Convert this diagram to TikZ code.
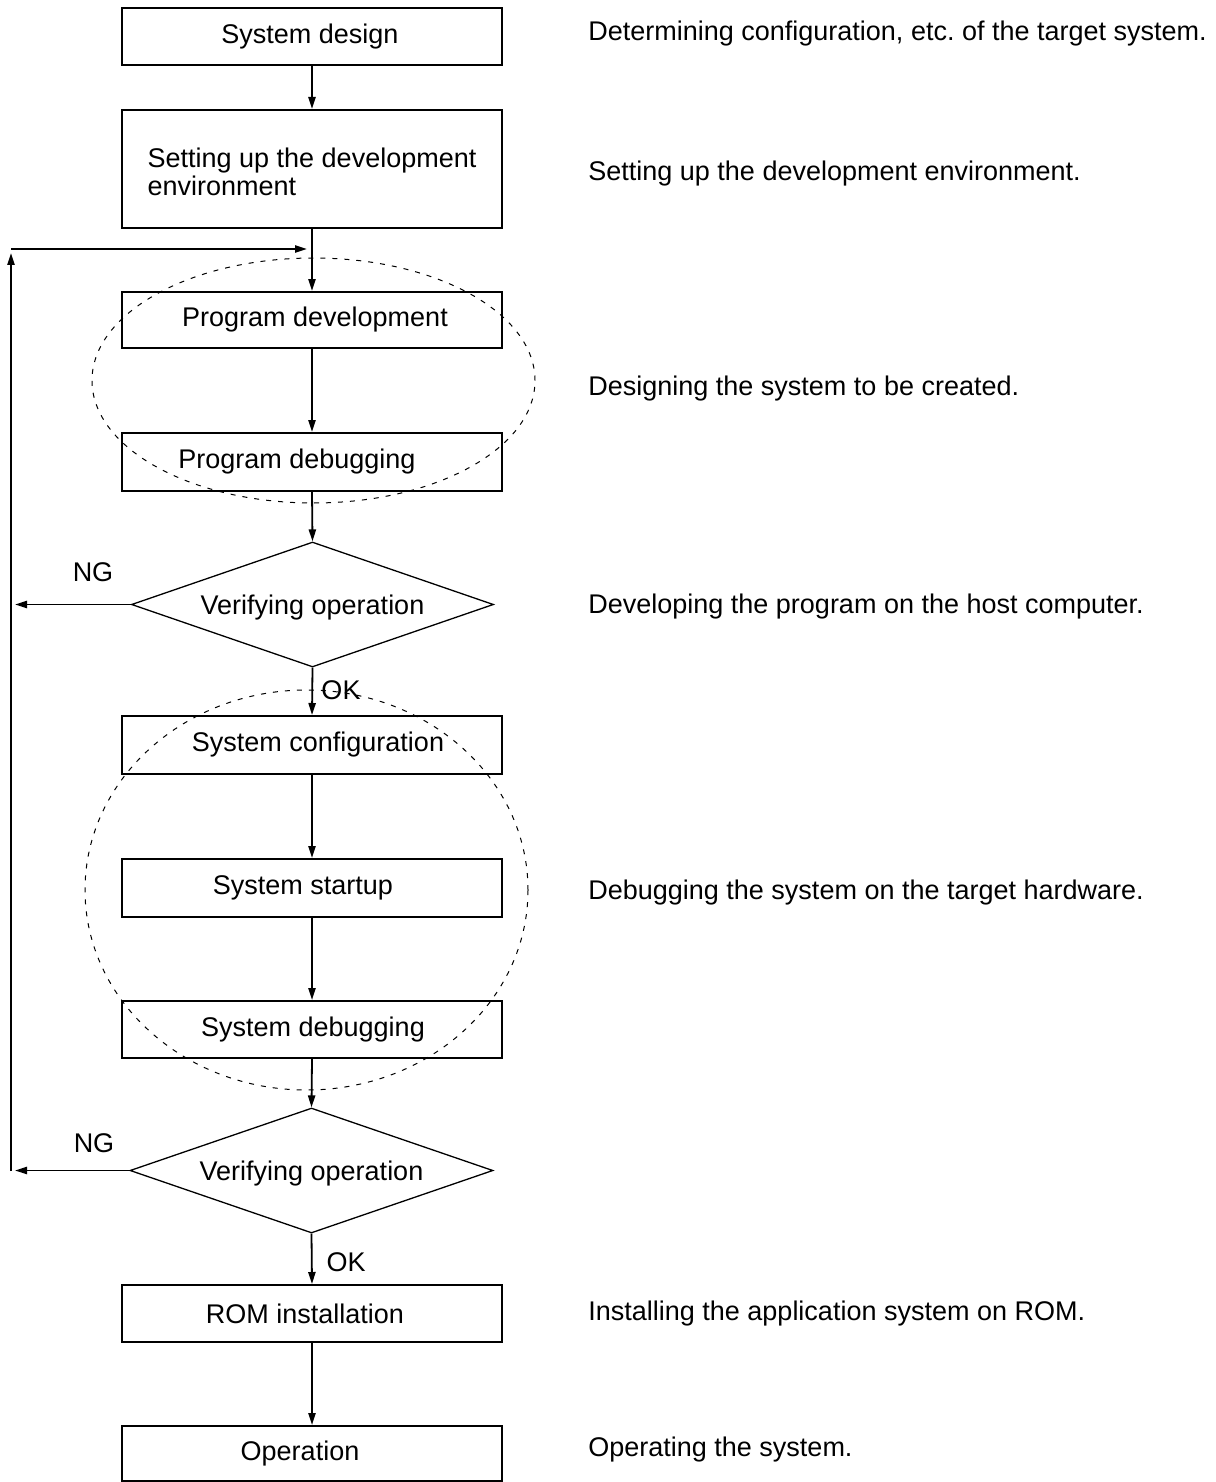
\documentclass[tikz,border=0pt]{standalone}
\usepackage{fontspec}
\setmainfont{Liberation Sans}
\usetikzlibrary{arrows.meta,shapes.geometric}
\frenchspacing
\begin{document}
\begin{tikzpicture}[x=0.5pt,y=-0.5pt,
  font=\fontsize{13.5}{14}\selectfont,
  box/.style={draw, line width=1pt, rectangle, minimum width=190pt, inner sep=0pt},
  dia/.style={draw, line width=0.65pt, diamond, minimum width=181pt, minimum height=62.5pt, inner sep=0pt},
  grp/.style={draw, dash pattern=on 2.5pt off 3.5pt, line width=0.5pt, ellipse, inner sep=0pt},
  conn/.style={draw, line width=0.9pt, -{Triangle[length=6pt,width=3.6pt]}},
  note/.style={anchor=west, inner sep=0pt},
  tag/.style={inner sep=0pt}]
\useasboundingbox (0,0) rectangle (1215,1482);

% boxes
\node[box, minimum height=28.5pt, label={[xshift=-1pt]center:System design}] (sd) at (312,36.5) {};
\node[box, minimum height=59pt, label={[align=left, yshift=-1.5pt]center:Setting up the development\\environment}] (env) at (312,169) {};
\node[box, minimum height=28pt, label={[xshift=1.5pt]center:Program development}] (pdev) at (312,320) {};
\node[box, minimum height=29pt, label={[xshift=-7.5pt]center:Program debugging}] (pdbg) at (312,462) {};
\node[dia, label={[yshift=-1.5pt]center:Verifying operation}] (d1) at (312.5,604.5) {};
\node[box, minimum height=29pt, label={[xshift=3pt]center:System configuration}] (scfg) at (312,745) {};
\node[box, minimum height=29pt, label={[xshift=-4.5pt]center:System startup}] (sst) at (312,888) {};
\node[box, minimum height=28.5pt, label={[xshift=0.5pt]center:System debugging}] (sdbg) at (312,1029.5) {};
\node[dia, minimum width=181.5pt, label={[yshift=-1.5pt]center:Verifying operation}] (d2) at (311.5,1170.5) {};
\node[box, minimum height=28.5pt, label={[xshift=-3.5pt]center:ROM installation}] (rom) at (312,1313.5) {};
\node[box, minimum height=27.5pt, label={[xshift=-6pt]center:Operation}] (op) at (312,1453.5) {};

% dashed groups
\node[grp, minimum width=221.5pt, minimum height=122.5pt] (g1) at (313.5,380.5) {};
\node[grp, minimum width=221.5pt, minimum height=200pt] (g2) at (306.5,890) {};

% free ends
\coordinate (fbin) at (307,249);
\coordinate (fbtop) at (11,249);
\coordinate (fbup) at (11,253);
\coordinate (fbbot) at (11,1171);
\coordinate (ng1) at (15,604.5);
\coordinate (ng2) at (15,1170.5);

% connectors
\draw[conn] (sd.south) -- (env.north);
\draw[conn] (env.south) -- (pdev.north);
\draw[conn] (pdev.south) -- (pdbg.north);
\draw[conn] (pdbg.south) -- (d1.north);
\draw[conn] (d1.south) -- (scfg.north);
\draw[conn] (scfg.south) -- (sst.north);
\draw[conn] (sst.south) -- (sdbg.north);
\draw[conn] (sdbg.south) -- (d2.north);
\draw[conn] (d2.south) -- (rom.north);
\draw[conn] (rom.south) -- (op.north);
\draw[conn] (d1.west) -- (ng1);
\draw[conn] (d2.west) -- (ng2);
\draw[conn] (fbbot) -- (fbup);
\draw[conn] (fbtop) -- (fbin);

% branch labels
\node[tag] (ngl1) at (93,572) {NG};
\node[tag] (ngl2) at (94,1143) {NG};
\node[tag] (okl1) at (341,690) {OK};
\node[tag] (okl2) at (346,1262) {OK};

% notes
\node[note] (n1) at (588,34) {Determining configuration, etc. of the target system.};
\node[note] (n2) at (588,174) {Setting up the development environment.};
\node[note] (n3) at (588,389) {Designing the system to be created.};
\node[note] (n4) at (588,607) {Developing the program on the host computer.};
\node[note] (n5) at (588,893) {Debugging the system on the target hardware.};
\node[note] (n6) at (588,1314) {Installing the application system on ROM.};
\node[note] (n7) at (588,1450) {Operating the system.};
\end{tikzpicture}
\end{document}
